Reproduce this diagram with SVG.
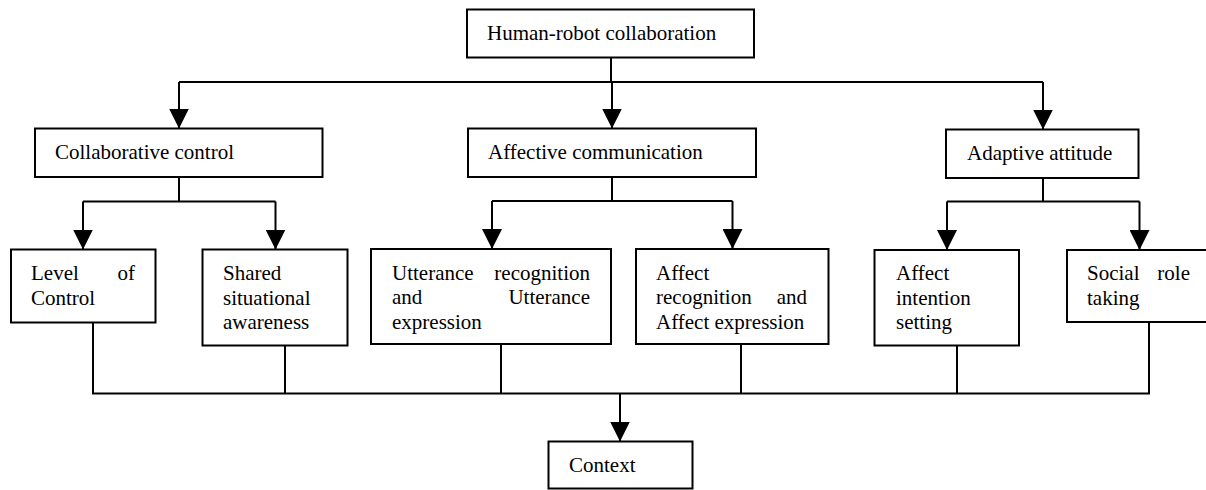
<svg xmlns="http://www.w3.org/2000/svg" width="1206" height="490" viewBox="0 0 1206 490">
<style>
.box{fill:#fff;stroke:#000;stroke-width:2}
.t{font-family:"Liberation Serif","Times New Roman",serif;font-size:21px;fill:#000}
.e{text-anchor:end}
.ln{fill:none;stroke:#000;stroke-width:2}
</style>
<defs>
<marker id="arr" markerUnits="userSpaceOnUse" markerWidth="20" markerHeight="20" viewBox="0 0 20 20" refX="20" refY="10" orient="auto">
<path d="M0,0 L20,10 L0,20 z" fill="#000"/>
</marker>
</defs>
<rect width="1206" height="490" fill="#fff"/>
<g id="connectors">
<polyline class="ln" points="611,57.5 611,82"/>
<polyline class="ln" points="179,82 1043,82"/>
<polyline class="ln" points="179,82 179,128.5" marker-end="url(#arr)"/>
<polyline class="ln" points="612,82 612,128.5" marker-end="url(#arr)"/>
<polyline class="ln" points="1043,82 1043,129.5" marker-end="url(#arr)"/>
<polyline class="ln" points="179,177 179,201.5"/>
<polyline class="ln" points="83,201.5 275.5,201.5"/>
<polyline class="ln" points="83,201.5 83,249.5" marker-end="url(#arr)"/>
<polyline class="ln" points="275.5,201.5 275.5,249.5" marker-end="url(#arr)"/>
<polyline class="ln" points="612,177 612,201"/>
<polyline class="ln" points="492,201 732.5,201"/>
<polyline class="ln" points="492,201 492,249" marker-end="url(#arr)"/>
<polyline class="ln" points="732.5,201 732.5,249" marker-end="url(#arr)"/>
<polyline class="ln" points="1043,178 1043,201.5"/>
<polyline class="ln" points="947,201.5 1139.5,201.5"/>
<polyline class="ln" points="947,201.5 947,250" marker-end="url(#arr)"/>
<polyline class="ln" points="1139.5,201.5 1139.5,250" marker-end="url(#arr)"/>
<polyline class="ln" points="93,322.5 93,393.5"/>
<polyline class="ln" points="285,345.5 285,393.5"/>
<polyline class="ln" points="501,344 501,393.5"/>
<polyline class="ln" points="741,344 741,393.5"/>
<polyline class="ln" points="957,345.5 957,393.5"/>
<polyline class="ln" points="1149,322 1149,393.5"/>
<polyline class="ln" points="92,393.5 1150,393.5"/>
<polyline class="ln" points="620,393.5 620,441.5" marker-end="url(#arr)"/>
</g>
<g id="hrc">
<rect class="box" x="467" y="9.5" width="287" height="48"/>
<text class="t" x="487" y="40">Human-robot collaboration</text>
</g>
<g id="collab-control">
<rect class="box" x="35" y="128.5" width="287.5" height="48.5"/>
<text class="t" x="55" y="159">Collaborative control</text>
</g>
<g id="affective-comm">
<rect class="box" x="468" y="128.5" width="288" height="48.5"/>
<text class="t" x="488" y="159">Affective communication</text>
</g>
<g id="adaptive-attitude">
<rect class="box" x="946" y="129.5" width="192.5" height="48.5"/>
<text class="t" x="967" y="160">Adaptive attitude</text>
</g>
<g id="level-control">
<rect class="box" x="11" y="249.5" width="144.5" height="73"/>
<text class="t" x="31" y="280">Level</text>
<text class="t e" x="135" y="280">of</text>
<text class="t" x="31" y="304.5">Control</text>
</g>
<g id="shared-awareness">
<rect class="box" x="202.5" y="249.5" width="145" height="96"/>
<text class="t" x="223" y="280">Shared</text>
<text class="t" x="223" y="304.5">situational</text>
<text class="t" x="223" y="329">awareness</text>
</g>
<g id="utterance">
<rect class="box" x="371" y="249" width="240" height="95"/>
<text class="t" x="392" y="279.5">Utterance</text>
<text class="t e" x="590" y="279.5">recognition</text>
<text class="t" x="392" y="304">and</text>
<text class="t e" x="590" y="304">Utterance</text>
<text class="t" x="392" y="328.5">expression</text>
</g>
<g id="affect-recognition">
<rect class="box" x="636" y="249" width="192.5" height="95"/>
<text class="t" x="656" y="279.5">Affect</text>
<text class="t" x="656" y="304">recognition</text>
<text class="t e" x="807" y="304">and</text>
<text class="t" x="656" y="328.5">Affect expression</text>
</g>
<g id="affect-intention">
<rect class="box" x="874.5" y="250" width="144.5" height="95.5"/>
<text class="t" x="896" y="280">Affect</text>
<text class="t" x="896" y="304.5">intention</text>
<text class="t" x="896" y="329">setting</text>
</g>
<g id="social-role">
<rect class="box" x="1067" y="250" width="145" height="72"/>
<text class="t" x="1087" y="280">Social</text>
<text class="t e" x="1190" y="280">role</text>
<text class="t" x="1087" y="304.5">taking</text>
</g>
<g id="context">
<rect class="box" x="548.5" y="441.5" width="144" height="47"/>
<text class="t" x="569" y="472">Context</text>
</g>
</svg>
